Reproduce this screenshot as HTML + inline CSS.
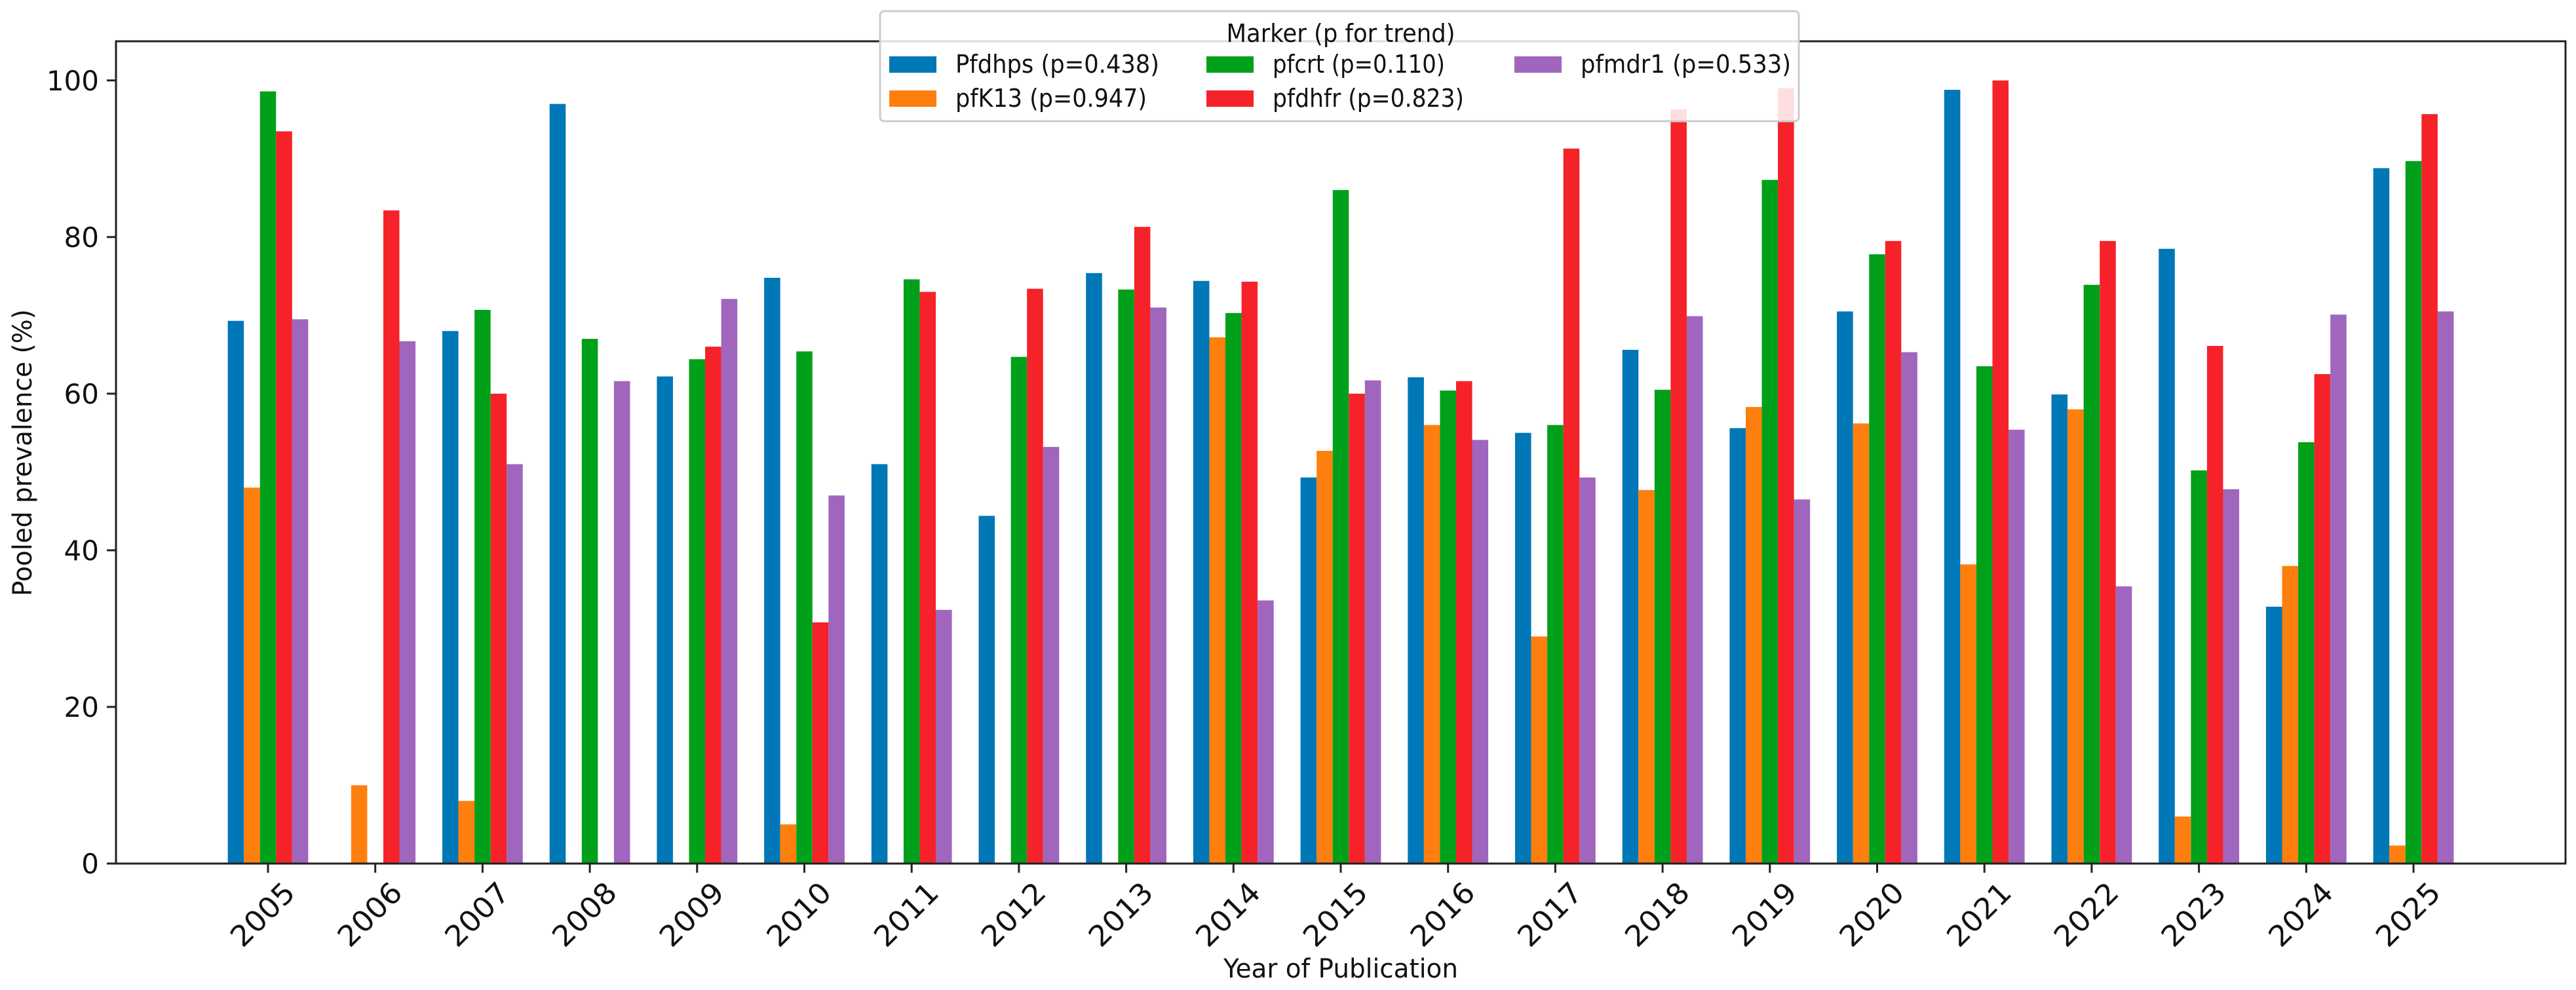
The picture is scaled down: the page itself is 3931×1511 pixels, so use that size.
<!DOCTYPE html>
<html><head><meta charset="utf-8"><style>
html,body{margin:0;padding:0;background:#fff;}
svg{display:block;font-family:"DejaVu Sans","Liberation Sans",sans-serif;}
</style></head><body>
<svg id="chart" width="3931" height="1511" viewBox="0 0 3931 1511" xmlns="http://www.w3.org/2000/svg">
<rect width="3931" height="1511" fill="#fff"/>
<g id="bars"></g>
<g id="axes"></g>
<g id="legend"></g>
</svg>
<script>
const years = ["2005","2006","2007","2008","2009","2010","2011","2012","2013","2014","2015","2016","2017","2018","2019","2020","2021","2022","2023","2024","2025"];
const seriesNames = ["Pfdhps (p=0.438)","pfK13 (p=0.947)","pfcrt (p=0.110)","pfdhfr (p=0.823)","pfmdr1 (p=0.533)"];
const pfdhps = [69.3,null,68,97,62.2,74.8,51,44.4,75.4,74.4,49.3,62.1,55,65.6,55.6,70.5,98.8,59.9,78.5,32.8,88.8];
const pfk13 = [48,10,8,null,null,5,null,null,null,67.2,52.7,56,29,47.7,58.3,56.2,38.2,58,6,38,2.3];
const pfcrt = [98.6,null,70.7,67,64.4,65.4,74.6,64.7,73.3,70.3,86,60.4,56,60.5,87.3,77.8,63.5,73.9,50.2,53.8,89.7];
const pfdhfr = [93.5,83.4,60,null,66,30.8,73,73.4,81.3,74.3,60,61.6,91.3,96.3,99,79.5,100,79.5,66.1,62.5,95.7];
const pfmdr1 = [69.5,66.7,51,61.6,72.1,47,32.4,53.2,71,33.6,61.7,54.1,49.3,69.9,46.5,65.3,55.4,35.4,47.8,70.1,70.5];
const yTicks = [0,20,40,60,80,100];

const NS="http://www.w3.org/2000/svg";
const colors=["#0077b6","#ff7f0e","#00a01a","#f5222a","#a066bd"];
const series=[pfdhps,pfk13,pfcrt,pfdhfr,pfmdr1];
const L=177,R=3915,T=63,B=1318;
const xMin=-1.417,xMax=years.length-1+1.417,yMin=0,yMax=105;
function xs(v){return L+(v-xMin)/(xMax-xMin)*(R-L);}
function ys(v){return B-(v-yMin)/(yMax-yMin)*(B-T);}
function mk(tag,attrs,parent){const e=document.createElementNS(NS,tag);for(const k in attrs)e.setAttribute(k,attrs[k]);parent.appendChild(e);return e;}
const bw=0.15;
const gb=document.getElementById('bars');
series.forEach((s,si)=>{
  s.forEach((v,i)=>{
    if(v===null)return;
    const x0=xs(i+(si-2)*bw-bw/2),x1=xs(i+(si-2)*bw+bw/2);
    const r=mk('rect',{x:x0,y:ys(v),width:x1-x0,height:ys(0)-ys(v),fill:colors[si]},gb);
    
    
  });
});
const ga=document.getElementById('axes');
const frame=mk('rect',{x:L,y:T,width:R-L,height:B-T,fill:'none',stroke:'#222',"stroke-width":3},ga);


yTicks.forEach(t=>{
  const y=ys(t);
  mk('line',{x1:L-14,x2:L,y1:y,y2:y,stroke:'#222',"stroke-width":3},ga);
  const tx=mk('text',{x:L-26,y:y+15,"text-anchor":"end","font-size":42,fill:'#111'},ga);
  tx.textContent=t;
  
  
});
years.forEach((yr,i)=>{
  const x=xs(i);
  mk('line',{x1:x,x2:x,y1:B,y2:B+14,stroke:'#222',"stroke-width":3},ga);
  const tx=mk('text',{x:0,y:0,"text-anchor":"middle","font-size":44,fill:'#111',transform:`translate(${x-6},${1398}) rotate(-45)`,"dominant-baseline":"middle",textLength:117,lengthAdjust:'spacingAndGlyphs'},ga);
  tx.textContent=yr;
  
  
});
const yl=mk('text',{x:0,y:0,"text-anchor":"middle","font-size":40,fill:'#111',transform:'translate(48,691) rotate(-90)',textLength:438,lengthAdjust:'spacingAndGlyphs'},ga);
yl.textContent='Pooled prevalence (%)';


const xl=mk('text',{x:2046,y:1492,"text-anchor":"middle","font-size":40,fill:'#111',textLength:358,lengthAdjust:'spacingAndGlyphs'},ga);
xl.textContent='Year of Publication';


const gl=document.getElementById('legend');
const lb=mk('rect',{x:1343,y:17,width:1402,height:168,rx:6,fill:'#fff',"fill-opacity":0.85,stroke:'#ccc',"stroke-width":3},gl);


const lt=mk('text',{x:2046,y:64,"text-anchor":"middle","font-size":38,fill:'#111',textLength:349,lengthAdjust:'spacingAndGlyphs'},gl);
lt.textContent='Marker (p for trend)';


const colX=[1357,1841,2311],rowY=[98,150];
const labLen=[311,292,263,292,321];
seriesNames.forEach((n,si)=>{
  const c=Math.floor(si/2),r=si%2;
  const g=mk('g',{},gl);
  
  
  mk('rect',{x:colX[c],y:rowY[r]-12,width:72,height:25,fill:colors[si]},g);
  const t=mk('text',{x:colX[c]+101,y:rowY[r]+13,"font-size":38,fill:'#111',textLength:labLen[si],lengthAdjust:'spacingAndGlyphs'},g);
  t.textContent=n;
});
</script>
</body></html>
